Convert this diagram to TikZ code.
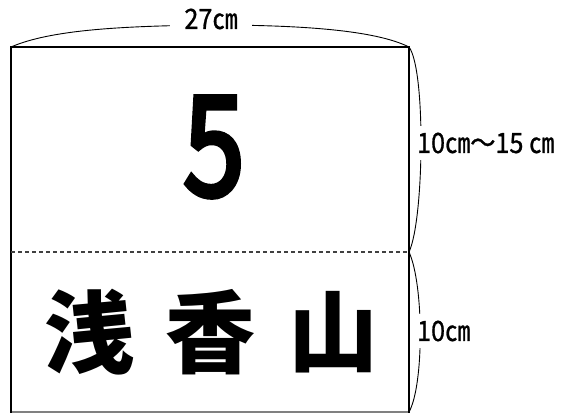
\documentclass[tikz,border=0pt]{standalone}
\usepackage{fontspec}
\newfontfamily\jp{Noto Sans CJK JP}
\newfontfamily\jpfb[FakeBold=4]{Noto Sans CJK JP}
\newfontfamily\jplb[FakeBold=1]{Noto Sans CJK JP}
\begin{document}
\begin{tikzpicture}[x=1pt,y=-1pt,
  lbl/.style={font=\jplb\fontsize{28}{28}\selectfont, inner xsep=1pt, inner ysep=7pt, fill=white, xscale=0.9},
  big/.style={font=\jpfb\fontsize{138}{138}\selectfont, inner sep=0pt, xscale=0.8},
  kanji/.style={font=\jp\bfseries\fontsize{90}{90}\selectfont, inner sep=0pt},
  edge/.style={line width=2pt, line cap=rect},
  bracestyle/.style={line width=0.9pt},
  fold/.style={dash pattern=on 4pt off 3pt, gray!50!black, line width=1.2pt}]
\useasboundingbox (0,0) rectangle (564,415);
\coordinate (tl) at (11,47);
\coordinate (tr) at (409,47);
\coordinate (bl) at (11,412);
\coordinate (br) at (409,412);
\coordinate (ml) at (11,252);
\coordinate (mr) at (409,252);
% braces
\draw[bracestyle] (tl) .. controls (50,30) and (120,26) .. (211,25) .. controls (300,25) and (375,30) .. (tr);
\draw[bracestyle] (tr) .. controls (426,70) and (424,220) .. (mr);
\draw[bracestyle] (mr) .. controls (424,285) and (424,385) .. (br);
% box
\draw[gray, line width=1.5pt] (bl) -- (br);
\draw[edge] (bl) -- (tl) -- (tr) -- (br);
\draw[fold] (ml) -- (mr);
% labels
\node[lbl, inner xsep=16pt] (w) at (211,19) {27㎝};
\node[lbl, anchor=west] (h1) at (416,143) {10㎝～15 ㎝};
\node[lbl, anchor=west] (h2) at (416,331) {10㎝};
% texts
\node[big] (five) at (214,147) {5};
\node[kanji] (k1) at (89,332) {浅};
\node[kanji] (k2) at (210,332) {香};
\node[kanji] (k3) at (333,332) {山};
\end{tikzpicture}
\end{document}
